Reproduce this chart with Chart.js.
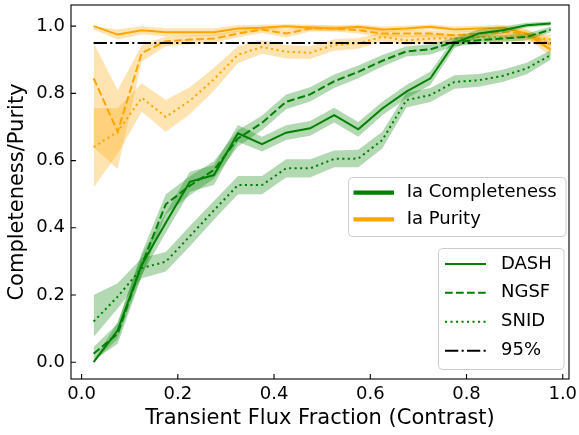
<!DOCTYPE html>
<html>
<head>
<meta charset="utf-8">
<script src="https://cdn.jsdelivr.net/npm/chart.js@4/dist/chart.umd.min.js"></script>
<style>
html, body { margin: 0; padding: 0; background: #fff; }
</style>
</head>
<body>
<canvas id="chart" width="579" height="435"></canvas>
<script>
// bin centres of the transient flux fraction
var contrast = [0.025, 0.075, 0.125, 0.175, 0.225, 0.275, 0.325, 0.375, 0.425, 0.475,
                0.525, 0.575, 0.625, 0.675, 0.725, 0.775, 0.825, 0.875, 0.925, 0.975];

// Ia completeness (green)
var dashComp   = [0.0, 0.095, 0.29, 0.415, 0.537, 0.557, 0.681, 0.649, 0.683, 0.696, 0.735, 0.693, 0.755, 0.805, 0.845, 0.95, 0.978, 0.988, 1.003, 1.008];
var dashCompLo = [0.0, 0.07, 0.26, 0.385, 0.507, 0.527, 0.656, 0.627, 0.661, 0.674, 0.713, 0.671, 0.735, 0.785, 0.825, 0.935, 0.966, 0.978, 0.996, 1.002];
var dashCompHi = [0.005, 0.12, 0.32, 0.445, 0.567, 0.587, 0.706, 0.671, 0.705, 0.718, 0.757, 0.715, 0.775, 0.825, 0.865, 0.965, 0.99, 0.998, 1.01, 1.014];

var ngsfComp   = [0.025, 0.085, 0.29, 0.47, 0.525, 0.572, 0.666, 0.712, 0.775, 0.797, 0.836, 0.864, 0.897, 0.925, 0.931, 0.953, 0.958, 0.963, 0.968, 0.99];
var ngsfCompLo = [0.005, 0.055, 0.255, 0.44, 0.497, 0.546, 0.642, 0.69, 0.753, 0.776, 0.816, 0.845, 0.88, 0.91, 0.916, 0.94, 0.946, 0.952, 0.958, 0.982];
var ngsfCompHi = [0.045, 0.115, 0.325, 0.5, 0.553, 0.598, 0.69, 0.734, 0.797, 0.818, 0.856, 0.883, 0.914, 0.94, 0.946, 0.966, 0.97, 0.974, 0.978, 0.998];

var snidComp   = [0.121, 0.195, 0.28, 0.299, 0.375, 0.452, 0.527, 0.527, 0.577, 0.577, 0.605, 0.606, 0.661, 0.78, 0.795, 0.834, 0.839, 0.852, 0.874, 0.914];
var snidCompLo = [0.075, 0.16, 0.25, 0.27, 0.345, 0.424, 0.5, 0.5, 0.55, 0.55, 0.58, 0.58, 0.636, 0.758, 0.774, 0.814, 0.82, 0.834, 0.857, 0.9];
var snidCompHi = [0.2, 0.235, 0.31, 0.328, 0.405, 0.48, 0.554, 0.554, 0.604, 0.604, 0.63, 0.632, 0.686, 0.802, 0.816, 0.854, 0.858, 0.87, 0.891, 0.928];

// Ia purity (orange)
var dashPur   = [1.0, 0.975, 0.988, 0.982, 0.982, 0.982, 0.993, 0.995, 1.0, 0.996, 0.993, 0.998, 0.99, 0.993, 0.998, 0.99, 0.993, 0.996, 0.978, 0.93];
var dashPurLo = [0.99, 0.96, 0.975, 0.97, 0.97, 0.97, 0.983, 0.986, 0.992, 0.988, 0.985, 0.99, 0.981, 0.985, 0.99, 0.981, 0.985, 0.988, 0.965, 0.91];
var dashPurHi = [1.0, 0.99, 1.0, 0.994, 0.994, 0.994, 1.003, 1.004, 1.006, 1.004, 1.001, 1.005, 0.999, 1.001, 1.005, 0.999, 1.001, 1.004, 0.991, 0.95];

var ngsfPur   = [0.845, 0.686, 0.92, 0.955, 0.96, 0.963, 0.978, 0.99, 0.978, 0.993, 0.993, 0.988, 0.978, 0.978, 0.978, 0.973, 0.978, 0.983, 0.978, 0.945];
var ngsfPurLo = [0.64, 0.575, 0.895, 0.94, 0.946, 0.95, 0.967, 0.98, 0.966, 0.984, 0.984, 0.978, 0.967, 0.967, 0.967, 0.962, 0.967, 0.973, 0.966, 0.925];
var ngsfPurHi = [0.95, 0.81, 0.943, 0.969, 0.973, 0.975, 0.988, 0.999, 0.99, 1.002, 1.002, 0.997, 0.988, 0.988, 0.988, 0.983, 0.988, 0.992, 0.989, 0.963];

var snidPur   = [0.64, 0.686, 0.787, 0.73, 0.778, 0.842, 0.915, 0.938, 0.924, 0.921, 0.944, 0.949, 0.968, 0.958, 0.963, 0.963, 0.968, 0.968, 0.968, 0.96];
var snidPurLo = [0.52, 0.62, 0.745, 0.686, 0.738, 0.808, 0.89, 0.918, 0.904, 0.902, 0.927, 0.933, 0.955, 0.944, 0.95, 0.95, 0.956, 0.956, 0.955, 0.945];
var snidPurHi = [0.756, 0.756, 0.83, 0.78, 0.818, 0.876, 0.94, 0.958, 0.944, 0.94, 0.961, 0.965, 0.981, 0.972, 0.976, 0.976, 0.98, 0.98, 0.981, 0.975];

// 95% reference line
var refX = [0.025, 0.975];
var refY = [0.95, 0.95];

var xTicks = [0.0, 0.2, 0.4, 0.6, 0.8, 1.0];
var yTicks = [0.0, 0.2, 0.4, 0.6, 0.8, 1.0];

var GREEN = 'rgb(0,128,0)', ORANGE = 'rgb(255,165,0)';
var GREEN_BAND = 'rgba(0,128,0,0.3)', ORANGE_BAND = 'rgba(255,165,0,0.3)';
var DASHED = [7.7, 3.3], DOTTED = [2.1, 3.4], DASHDOT = [13.3, 3.3, 2.1, 3.3];

function pts(ys, xs) {
    xs = xs || contrast;
    return xs.map(function (x, i) { return { x: x, y: ys[i] }; });
}

var datasets = [];
function addBand(hi, lo, color) {
    datasets.push({ data: pts(hi), borderWidth: 0, pointRadius: 0, backgroundColor: color, fill: '+1' });
    datasets.push({ data: pts(lo), borderWidth: 0, pointRadius: 0, fill: false });
}
function addLine(ys, color, dash, xs) {
    datasets.push({ data: pts(ys, xs), borderColor: color, borderWidth: 2, borderDash: dash,
                    borderCapStyle: 'butt', pointRadius: 0, fill: false, tension: 0 });
}

// drawing sequence, first is lowest
addLine(dashPur, ORANGE, []);      addBand(dashPurHi, dashPurLo, ORANGE_BAND);
addLine(ngsfPur, ORANGE, DASHED);  addBand(ngsfPurHi, ngsfPurLo, ORANGE_BAND);
addLine(snidPur, ORANGE, DOTTED);  addBand(snidPurHi, snidPurLo, ORANGE_BAND);
addLine(dashComp, GREEN, []);      addBand(dashCompHi, dashCompLo, GREEN_BAND);
addLine(ngsfComp, GREEN, DASHED);  addBand(ngsfCompHi, ngsfCompLo, GREEN_BAND);
addLine(snidComp, GREEN, DOTTED);  addBand(snidCompHi, snidCompLo, GREEN_BAND);
addLine(refY, '#000', DASHDOT, refX);
datasets.forEach(function (d, i) { d.order = datasets.length - i; });

// frame, inward ticks and the two legends
var decor = {
    id: 'decor',
    afterDraw: function (chart) {
        var ctx = chart.ctx, a = chart.chartArea;
        var xs = chart.scales.x, ys = chart.scales.y;
        ctx.save();
        ctx.strokeStyle = '#000';
        ctx.lineWidth = 1.1;
        ctx.beginPath();
        xs.ticks.forEach(function (t) {
            var p = xs.getPixelForValue(t.value);
            ctx.moveTo(p, a.bottom); ctx.lineTo(p, a.bottom - 4.9);
        });
        ys.ticks.forEach(function (t) {
            var p = ys.getPixelForValue(t.value);
            ctx.moveTo(a.left, p); ctx.lineTo(a.left + 4.9, p);
        });
        ctx.stroke();
        ctx.strokeRect(a.left, a.top, a.right - a.left, a.bottom - a.top);

        function box(x0, y0, x1, y1) {
            ctx.beginPath();
            ctx.roundRect(x0, y0, x1 - x0, y1 - y0, 4);
            ctx.fillStyle = 'rgba(255,255,255,0.8)';
            ctx.fill();
            ctx.strokeStyle = '#cccccc';
            ctx.lineWidth = 1;
            ctx.setLineDash([]);
            ctx.stroke();
        }
        function entry(x0, x1, y, tx, color, dash, lw, label) {
            ctx.beginPath();
            ctx.strokeStyle = color;
            ctx.lineWidth = lw;
            ctx.lineCap = 'butt';
            ctx.setLineDash(dash);
            ctx.moveTo(x0, y); ctx.lineTo(x1, y);
            ctx.stroke();
            ctx.setLineDash([]);
            ctx.fillStyle = '#000';
            ctx.font = '18px "DejaVu Sans"';
            ctx.textBaseline = 'middle';
            ctx.textAlign = 'left';
            ctx.fillText(label, tx, y);
        }
        box(348.5, 177.5, 566, 236.5);
        entry(353.5, 394, 192.7, 406.7, GREEN, [], 4.2, 'Ia Completeness');
        entry(353.5, 394, 219.3, 406.7, ORANGE, [], 4.2, 'Ia Purity');

        box(438.5, 248.5, 564, 369.5);
        entry(445, 486, 264, 501, GREEN, [], 2, 'DASH');
        entry(445, 486, 292.7, 501, GREEN, DASHED, 2, 'NGSF');
        entry(445, 486, 321.7, 501, GREEN, DOTTED, 2, 'SNID');
        entry(445, 486, 350.7, 501, '#000', DASHDOT, 2, '95%');
        ctx.restore();
    }
};

// fixed axis sizes so the plot box lands where it is in the figure
function noOverflow(s) {
    s.paddingLeft = 0; s.paddingRight = 0; s.paddingTop = 0; s.paddingBottom = 0;
}

Chart.defaults.font.family = '"DejaVu Sans"';
Chart.defaults.font.size = 18;
Chart.defaults.color = '#000';

var chart = new Chart(document.getElementById('chart').getContext('2d'), {
    type: 'line',
    data: { datasets: datasets },
    options: {
        responsive: false,
        animation: false,
        events: [],
        layout: { padding: { left: 0, top: 5, right: 10, bottom: 0 } },
        plugins: { legend: { display: false }, tooltip: { enabled: false } },
        scales: {
            x: {
                type: 'linear', min: -0.022, max: 1.013,
                grid: { display: false, drawTicks: false },
                border: { display: false },
                afterBuildTicks: function (s) { s.ticks = xTicks.map(function (v) { return { value: v }; }); },
                afterFit: function (s) { s.height = 56; noOverflow(s); },
                ticks: { padding: 5, autoSkip: false, maxRotation: 0,
                         callback: function (v) { return v.toFixed(1); } },
                title: { display: true, text: 'Transient Flux Fraction (Contrast)',
                         font: { size: 21 }, padding: { top: 0, bottom: 4 } }
            },
            y: {
                type: 'linear', min: -0.05, max: 1.063,
                grid: { display: false, drawTicks: false },
                border: { display: false },
                afterBuildTicks: function (s) { s.ticks = yTicks.map(function (v) { return { value: v }; }); },
                afterFit: function (s) { s.width = 71; noOverflow(s); },
                ticks: { padding: 6, autoSkip: false,
                         callback: function (v) { return v.toFixed(1); } },
                title: { display: true, text: 'Completeness/Purity',
                         font: { size: 21 }, padding: { top: 5, bottom: 0 } }
            }
        }
    },
    plugins: [decor]
});
</script>
</body>
</html>
